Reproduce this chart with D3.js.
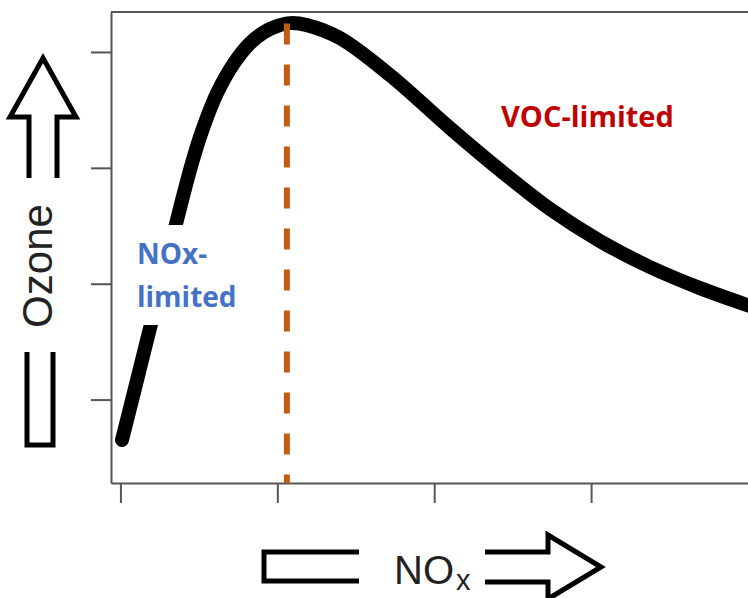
<!DOCTYPE html>
<html>
<head>
<meta charset="utf-8">
<script src="https://cdn.jsdelivr.net/npm/d3@7"></script>
<style>
  html, body { margin: 0; padding: 0; background: #ffffff; }
  svg { display: block; }
</style>
</head>
<body>
<svg id="chart" width="748" height="598"></svg>
<script>
// ---- data ----
const xTickValues = [0, 1, 2, 3];
const yTickValues = [1, 2, 3, 4];
const noxValues = [0.010, 0.087, 0.163, 0.240, 0.316, 0.393, 0.456, 0.520, 0.616, 0.724, 0.826, 0.915, 0.998, 1.081, 1.189, 1.400, 1.718, 2.101, 2.419, 2.738, 3.057, 3.375, 3.694, 4.030];
const ozoneValues = [0.651, 1.065, 1.479, 1.893, 2.308, 2.722, 3.041, 3.317, 3.645, 3.904, 4.076, 4.171, 4.223, 4.249, 4.232, 4.119, 3.800, 3.343, 2.981, 2.644, 2.368, 2.144, 1.962, 1.800];
const peakNox = 1.061;
const peakOzone = 4.245;
const regimeLabels = ["NOx-", "limited", "VOC-limited"];
const axisTitles = ["Ozone", "NO", "x"];

// ---- scales ----
const svg = d3.select("#chart");
const x = d3.scaleLinear().domain([-0.06, 4.0]).range([111, 748]);
const y = d3.scaleLinear().domain([0.28, 4.345]).range([483, 12]);

const axisColor = "#555555";

// frame top line
svg.append("line")
  .attr("x1", x(-0.06)).attr("x2", x(4.0))
  .attr("y1", y(4.345)).attr("y2", y(4.345))
  .attr("stroke", axisColor).attr("stroke-width", 2);

// y axis
const gy = svg.append("g").attr("transform", `translate(${x(-0.06)},0)`)
  .call(d3.axisLeft(y).tickValues(yTickValues).tickFormat("").tickSize(20).tickSizeOuter(0));
gy.select(".domain").attr("stroke", axisColor).attr("stroke-width", 2);
gy.selectAll(".tick line").attr("stroke", axisColor).attr("stroke-width", 2);

// x axis
const gx = svg.append("g").attr("transform", `translate(0,${y(0.28)})`)
  .call(d3.axisBottom(x).tickValues(xTickValues).tickFormat("").tickSize(20).tickSizeOuter(0));
gx.select(".domain").attr("stroke", axisColor).attr("stroke-width", 2);
gx.selectAll(".tick line").attr("stroke", axisColor).attr("stroke-width", 2);

// curve
const pts = noxValues.map((v, i) => [v, ozoneValues[i]]);
const line = d3.line().x(d => x(d[0])).y(d => y(d[1])).curve(d3.curveCatmullRom.alpha(0.5));
svg.append("path")
  .attr("d", line(pts))
  .attr("fill", "none")
  .attr("stroke", "#000000")
  .attr("stroke-width", 14)
  .attr("stroke-linecap", "round")
  .attr("stroke-linejoin", "round");

// dashed peak line
svg.append("line")
  .attr("x1", x(peakNox)).attr("x2", x(peakNox))
  .attr("y1", y(peakOzone)).attr("y2", y(0.28))
  .attr("stroke", "#C55A11")
  .attr("stroke-width", 6)
  .attr("stroke-dasharray", "21,20");

// NOx-limited label with white backing
svg.append("rect").attr("x", 134).attr("y", 225).attr("width", 108).attr("height", 100).attr("fill", "#ffffff");
const blue = "#4472C4";
svg.append("text").attr("x", 137).attr("y", 264)
  .attr("font-family", "'Open Sans', sans-serif").attr("font-weight", "bold").attr("font-size", 28)
  .attr("fill", blue).text(regimeLabels[0]);
svg.append("text").attr("x", 137).attr("y", 307)
  .attr("font-family", "'Open Sans', sans-serif").attr("font-weight", "bold").attr("font-size", 28)
  .attr("fill", blue).text(regimeLabels[1]);

svg.append("text").attr("x", 501).attr("y", 127)
  .attr("font-family", "'Open Sans', sans-serif").attr("font-weight", "bold").attr("font-size", 29)
  .attr("fill", "#C00000").text(regimeLabels[2]);

// Ozone axis title with outline arrow
const arrowStyle = g => g.attr("fill", "none").attr("stroke", "#000").attr("stroke-width", 5).attr("stroke-linejoin", "miter");
svg.append("polyline")
  .attr("points", "29,178 29,117 10,117 43,58 76,117 57,117 57,178")
  .call(arrowStyle);
svg.append("polyline")
  .attr("points", "27,352 27,445 53,445 53,352")
  .call(arrowStyle);
svg.append("text")
  .attr("transform", "translate(52,266) rotate(-90)")
  .attr("text-anchor", "middle")
  .attr("font-family", "'Liberation Sans', Arial, sans-serif")
  .attr("font-size", 42)
  .attr("fill", "#222").text(axisTitles[0]);

// NOx axis title with outline arrow
svg.append("polyline")
  .attr("points", "359,552 264,552 264,581 359,581")
  .call(arrowStyle);
svg.append("polyline")
  .attr("points", "485,552 548,552 548,535 601,567 548,599 548,582 485,582")
  .call(arrowStyle);
const nox = svg.append("text")
  .attr("x", 394).attr("y", 584)
  .attr("font-family", "'Liberation Sans', Arial, sans-serif")
  .attr("fill", "#222");
nox.append("tspan").attr("font-size", 40).text(axisTitles[1]);
nox.append("tspan").attr("font-size", 29).attr("dy", 6).attr("dx", 2).text(axisTitles[2]);
</script>
</body>
</html>
